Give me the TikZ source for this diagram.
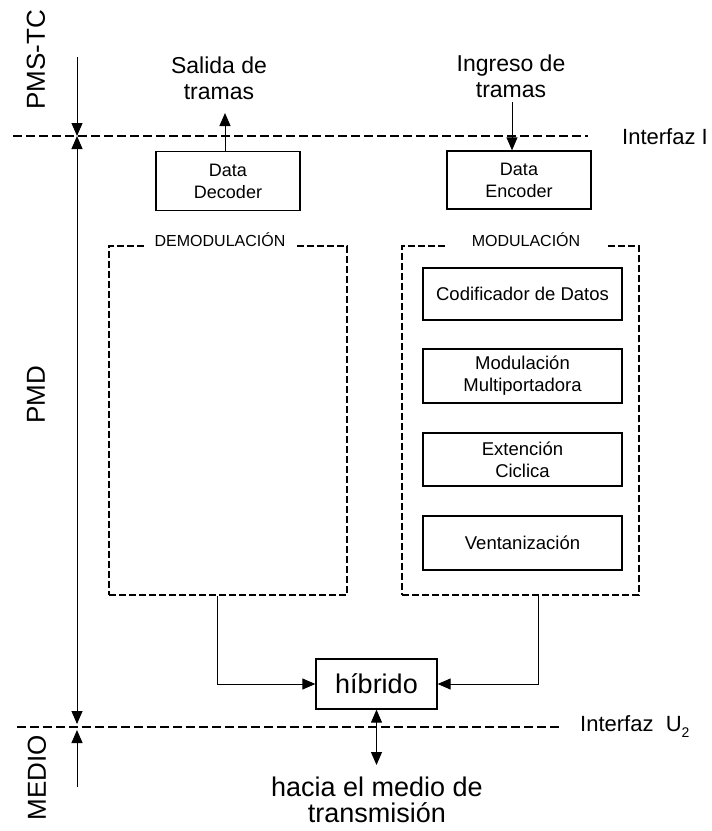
\documentclass[tikz,border=0pt]{standalone}
\usepackage{fontspec}
\setmainfont{Liberation Sans}
\usetikzlibrary{arrows.meta}
\newcommand{\fs}[2]{\fontsize{#1}{#2}\selectfont}
\begin{document}
\begin{tikzpicture}[x=1pt,y=-1pt,
  tip/.style={-{Triangle[length=13pt,width=11pt]}},
  dtip/.style={{Triangle[length=13pt,width=11pt]}-{Triangle[length=13pt,width=11pt]}},
  conn/.style={line width=1pt},
  solidbox/.style={draw,line width=1.3pt,inner sep=0pt,align=center},
  groupbox/.style={draw,line width=1.5pt,dash pattern=on 7pt off 3pt,inner sep=0pt,minimum width=237pt,minimum height=349pt},
  grouplabel/.style={fill=white,inner ysep=2pt,font=\fs{16}{18}},
  iface/.style={line width=1.2pt,dash pattern=on 9pt off 4pt},
  lbl/.style={align=center,inner sep=0pt}
]
\useasboundingbox (0,0) rectangle (712,831);

% interface lines
\coordinate (iL1) at (13,136);
\coordinate (iR1) at (588,136);
\coordinate (iL2) at (17,727);
\coordinate (iR2) at (560,727);
\draw[iface] (iL1) -- (iR1);
\draw[iface] (iL2) -- (iR2);
\node[lbl,anchor=west,font=\fs{22}{24}] (interI) at (622,137) {Interfaz I};
\node[lbl,anchor=west,font=\fs{22}{24}] (interU) at (580,727) {Interfaz\ \ U{\fs{14}{16}\raisebox{-6pt}{2}}};

% layer labels
\node[lbl,rotate=90,font=\fs{26}{28}] (pmstc) at (36,60) {PMS-TC};
\node[lbl,rotate=90,font=\fs{26}{28}] (pmd) at (36,395) {PMD};
\node[lbl,rotate=90,font=\fs{26}{28}] (medio) at (37,778) {MEDIO};

% left vertical arrows
\coordinate (a1) at (77,57);
\coordinate (a2) at (77,136);
\coordinate (a3) at (77,136);
\coordinate (a4) at (77,724);
\coordinate (a5) at (77,730);
\coordinate (a6) at (77,787);
\draw[conn,tip] (a1) -- (a2);
\draw[conn,dtip] (a3) -- (a4);
\draw[conn,tip] (a6) -- (a5);

% top text
\node[lbl,font=\fs{23}{26}] (salida) at (219,78) {Salida de\\tramas};
\node[lbl,font=\fs{23}{26}] (ingreso) at (511,76) {Ingreso de\\tramas};

% data boxes
\node[solidbox,minimum width=144pt,minimum height=59pt,font=\fs{18}{22}] (dec) at (228,181) {Data\\Decoder};
\node[solidbox,minimum width=144pt,minimum height=58pt,font=\fs{18}{22}] (enc) at (519,180) {Data\\Encoder};

\coordinate (salTip) at (225,113);
\coordinate (ingTop) at (512,102);
\draw[conn,tip] (salTip |- dec.north) -- (salTip);
\draw[conn,tip] (ingTop) -- (ingTop |- enc.north);

% group boxes
\node[groupbox,minimum width=238pt] (demod) at (228,420.5) {};
\node[grouplabel,inner xsep=10pt] (demodlbl) at (220,240) {DEMODULACIÓN};
\node[groupbox] (mod) at (520.5,420.5) {};
\node[grouplabel,inner xsep=25pt] (modlbl) at (526,240) {MODULACIÓN};

% inner boxes
\node[solidbox,minimum width=199pt,minimum height=52pt,font=\fs{18.5}{22}] (cod) at (522.5,294) {Codificador de Datos};
\node[solidbox,minimum width=199pt,minimum height=54pt,font=\fs{18.5}{22}] (mul) at (522.5,376) {Modulación\\Multiportadora};
\node[solidbox,minimum width=199pt,minimum height=53pt,font=\fs{18.5}{22}] (ext) at (522.5,459.5) {Extención\\Ciclica};
\node[solidbox,minimum width=199pt,minimum height=54pt,font=\fs{18.5}{22}] (ven) at (522.5,543) {Ventanización};

% hibrido
\node[solidbox,minimum width=121pt,minimum height=50pt,font=\fs{27}{30}] (hib) at (376.5,684) {híbrido};
\draw[conn,tip] ([xshift=-11pt]demod.south) |- (hib.west);
\draw[conn,tip] ([xshift=17.5pt]mod.south) |- (hib.east);
\coordinate (hibBot) at (376.5,765);
\draw[conn,dtip] (hib.south) -- (hibBot);

\node[lbl,font=\fs{27}{26}] (hacia) at (377,800) {hacia el medio de\\transmisión};
\end{tikzpicture}
\end{document}
